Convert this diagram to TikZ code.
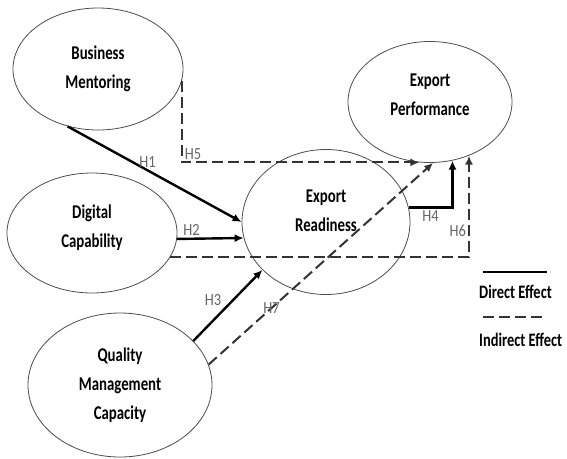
\documentclass[tikz,border=0pt]{standalone}
\usepackage{fontspec}
\setmainfont{Carlito}[FakeStretch=0.85]
\newfontfamily\narrowfont{Carlito}[FakeStretch=0.76]
\usetikzlibrary{shapes.geometric,arrows.meta}

\begin{document}
\begin{tikzpicture}[x=1pt,y=-1pt,
    construct/.style={ellipse, draw=black!70, line width=0.8pt, inner sep=0pt,
        align=center, font=\narrowfont\bfseries\fontsize{19.5}{29}\selectfont},
    direct/.style={line width=2.4pt, -{Latex[length=9pt,width=8pt]}},
    indirect/.style={line width=2pt, draw=black!80, dash pattern=on 11pt off 5pt,
        -{Latex[length=9pt,width=8pt]}},
    hyp/.style={text=black!60, font=\fontsize{17}{20}\selectfont, inner sep=2pt},
    legend/.style={font=\narrowfont\bfseries\fontsize{19}{20}\selectfont, inner sep=0pt, anchor=west}]
    \useasboundingbox (0,0) rectangle (567,458);
    % constructs
    \node[construct, minimum width=170pt, minimum height=122pt] (bm) at (98,69) {Business\\Mentoring};
    \node[construct, minimum width=170pt, minimum height=120pt, text depth=14pt] (dc) at (92,233) {Digital\\Capability};
    \node[construct, minimum width=184pt, minimum height=144pt] (qmc) at (120,385) {Quality\\Management\\Capacity};
    \node[construct, minimum width=168pt, minimum height=145pt, text depth=22pt] (er) at (326,222) {Export\\Readiness};
    \node[construct, minimum width=164pt, minimum height=121pt, text depth=14pt] (ep) at (430,102) {Export\\Performance};
    %
    \draw[direct] (bm.-118) -- node[hyp, pos=0.46, above] {H1} (er.west);
    \draw[direct] (dc.-4) -- node[hyp, pos=0.22, above] {H2} (er.-169);
    \draw[direct] (qmc.31) -- node[hyp, pos=0.45, above left] {H3} (er.217);
    \draw[direct] (er.10) -| node[hyp, pos=0.25, below] {H4} (ep.-69);
    \draw[indirect] (bm.-8) |- node[hyp, pos=0.5, above right] {H5} (ep.-100);
    \draw[indirect] (dc.-17) -| node[hyp, pos=0.63, left] {H6} (ep.-54);
    \draw[indirect] (qmc.13) -- node[hyp, pos=0.28] {H7} (ep.-87);
    % legend
    \coordinate (d1) at (483,272);
    \coordinate (d2) at (547,272);
    \coordinate (i1) at (483,317);
    \coordinate (i2) at (547,317);
    \draw[line width=2.4pt] (d1) -- (d2);
    \draw[line width=2pt, black!80, dash pattern=on 11pt off 5pt] (i1) -- (i2);
    \node[legend] (dlab) at (479,292) {Direct Effect};
    \node[legend] (ilab) at (479,340) {Indirect Effect};
\end{tikzpicture}
\end{document}
